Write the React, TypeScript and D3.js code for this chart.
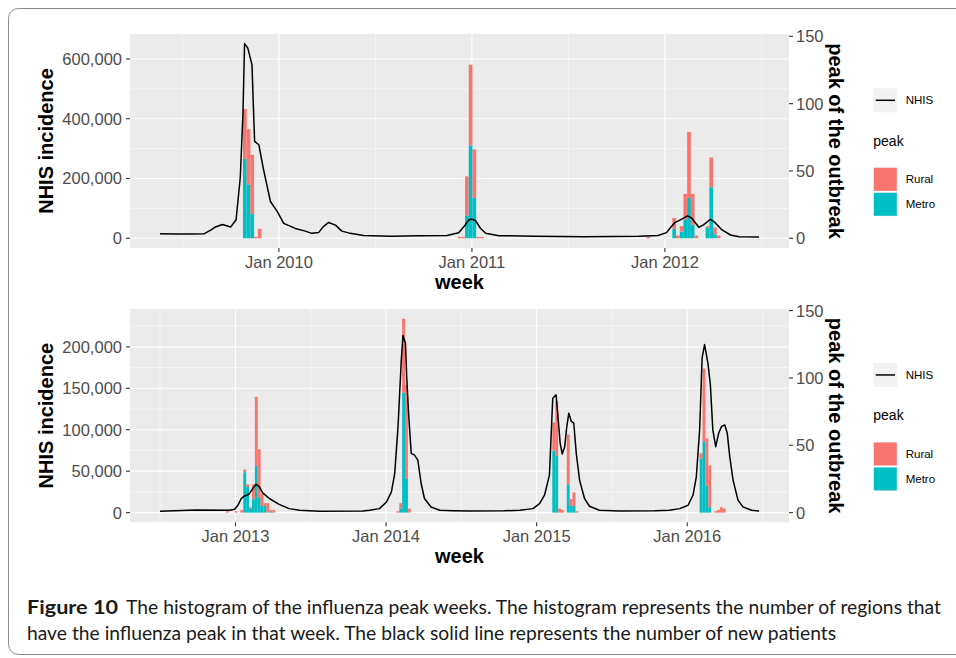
import React from "react";
import * as d3 from "d3";

// ---------- DATA ----------
// NHIS weekly incidence (key points), season 2009-2012
const topNhis: [string, number][] = [
  ["2009-05-21", 15000], ["2009-06-20", 14000], ["2009-07-20", 14000], ["2009-08-13", 15500],
  ["2009-08-25", 27000], ["2009-09-03", 38000], ["2009-09-16", 46000], ["2009-10-02", 38000],
  ["2009-10-12", 62000], ["2009-10-20", 206000], ["2009-10-25", 420000], ["2009-10-28", 651000],
  ["2009-11-03", 637000], ["2009-11-11", 581000], ["2009-11-16", 324000], ["2009-11-24", 313000],
  ["2009-12-03", 229000], ["2009-12-16", 123000], ["2009-12-29", 89000], ["2010-01-10", 50000],
  ["2010-02-01", 33000], ["2010-02-20", 24000], ["2010-03-04", 16500], ["2010-03-17", 19000],
  ["2010-03-26", 39000], ["2010-04-05", 53000], ["2010-04-18", 44000], ["2010-04-30", 24000],
  ["2010-05-13", 18000], ["2010-06-10", 9000], ["2010-08-01", 7000], ["2010-09-22", 8500],
  ["2010-11-15", 9000], ["2010-12-07", 18800], ["2010-12-17", 39000], ["2010-12-26", 61000],
  ["2010-12-31", 64700], ["2011-01-08", 59000], ["2011-01-17", 33500], ["2011-01-27", 16800],
  ["2011-02-21", 8700], ["2011-05-01", 6500], ["2011-08-01", 5500], ["2011-11-12", 7000],
  ["2011-12-19", 9500], ["2012-01-04", 18800], ["2012-01-14", 41200], ["2012-01-20", 52300],
  ["2012-01-30", 61300], ["2012-02-13", 74700], ["2012-02-21", 67000], ["2012-03-05", 36900],
  ["2012-03-14", 44600], ["2012-03-27", 63700], ["2012-04-05", 52300], ["2012-04-18", 27800],
  ["2012-05-04", 11000], ["2012-05-20", 5400], ["2012-06-27", 4400],
];

// Peak weeks (number of regions), 2009-2012
const topPeakWeeks = [
  "2009-10-25", "2009-11-01", "2009-11-08", "2009-11-15", "2009-11-22",
  "2010-12-05", "2010-12-12", "2010-12-19", "2010-12-26", "2011-01-02", "2011-01-09", "2011-01-16",
  "2011-11-27", "2012-01-15", "2012-01-22", "2012-01-29", "2012-02-05", "2012-02-12", "2012-02-19",
  "2012-02-26", "2012-03-18", "2012-03-25", "2012-04-01", "2012-04-08",
];
const topMetro = [59, 40, 18, 0, 0, 0, 0, 17, 69, 30, 0, 0, 0, 7, 0, 5, 14, 30, 10, 0, 8, 38, 3, 0];
const topRural = [37, 41, 44, 1, 7, 1, 1, 29, 60, 36, 1, 1, 1, 8, 2, 4, 19, 49, 23, 2, 1, 22, 5, 2];

// NHIS weekly incidence, season 2012-2016
const bottomNhis: [string, number][] = [
  ["2012-07-02", 1600], ["2012-09-28", 3200], ["2012-12-18", 2800], ["2012-12-30", 4000],
  ["2013-01-07", 8800], ["2013-01-15", 17000], ["2013-01-23", 20100], ["2013-02-03", 22200],
  ["2013-02-12", 29000], ["2013-02-20", 34300], ["2013-02-28", 31000], ["2013-03-08", 23800],
  ["2013-03-24", 17000], ["2013-04-17", 10000], ["2013-05-11", 4800], ["2013-06-05", 2800],
  ["2013-07-24", 1600], ["2013-11-06", 1800], ["2013-11-22", 2800], ["2013-12-16", 4800],
  ["2014-01-02", 12800], ["2014-01-14", 25000], ["2014-01-22", 47300], ["2014-01-30", 103700],
  ["2014-02-07", 184600], ["2014-02-11", 213700], ["2014-02-17", 204800], ["2014-02-20", 164300],
  ["2014-02-25", 115900], ["2014-03-03", 71500], ["2014-03-11", 69400], ["2014-03-19", 63400],
  ["2014-03-27", 35100], ["2014-04-04", 17000], ["2014-04-20", 6800], ["2014-05-11", 2800],
  ["2014-06-12", 2200], ["2014-07-22", 1800], ["2014-10-15", 2200], ["2014-11-21", 2800],
  ["2014-12-23", 4800], ["2015-01-08", 10900], ["2015-01-20", 21000], ["2015-02-01", 45200],
  ["2015-02-09", 138000], ["2015-02-17", 142200], ["2015-02-21", 120000], ["2015-02-27", 83600],
  ["2015-03-04", 70700], ["2015-03-10", 79600], ["2015-03-15", 103800], ["2015-03-20", 120000],
  ["2015-03-26", 110000], ["2015-04-01", 107900], ["2015-04-07", 71500], ["2015-04-15", 39200],
  ["2015-04-27", 17000], ["2015-05-09", 7700], ["2015-06-02", 2800], ["2015-07-21", 2000],
  ["2015-10-15", 2200], ["2015-11-19", 2800], ["2015-12-14", 4800], ["2016-01-03", 8900],
  ["2016-01-15", 21000], ["2016-01-23", 43200], ["2016-01-31", 99800], ["2016-02-06", 186600],
  ["2016-02-12", 202800], ["2016-02-20", 180600], ["2016-02-26", 154300], ["2016-03-03", 99800],
  ["2016-03-10", 79600], ["2016-03-17", 95700], ["2016-03-24", 103800], ["2016-04-01", 105800],
  ["2016-04-07", 95700], ["2016-04-13", 67500], ["2016-04-21", 39200], ["2016-05-03", 15000],
  ["2016-05-15", 6900], ["2016-06-05", 2800], ["2016-06-23", 2000],
];

const bottomPeakWeeks = [
  "2012-12-09", "2012-12-30", "2013-01-13", "2013-01-20", "2013-01-27", "2013-02-03", "2013-02-10",
  "2013-02-17", "2013-02-24", "2013-03-03", "2013-03-10", "2013-03-17", "2013-03-24", "2013-03-31",
  "2014-01-26", "2014-02-02", "2014-02-09", "2014-02-16", "2014-02-23",
  "2015-02-08", "2015-02-15", "2015-02-22", "2015-03-01", "2015-03-15", "2015-03-22", "2015-03-29", "2015-04-05",
  "2016-01-31", "2016-02-07", "2016-02-14", "2016-02-21", "2016-03-06", "2016-03-13", "2016-03-20", "2016-03-27",
];
const bottomMetro = [0, 0, 0, 30, 19, 3, 10, 35, 11, 5, 5, 0, 1, 0,
  0, 3, 89, 25, 0,
  46, 42, 0, 0, 21, 5, 5, 0,
  40, 53, 20, 4, 0, 0, 0, 0];
const bottomRural = [1, 1, 2, 2, 2, 1, 11, 51, 36, 9, 2, 7, 1, 2,
  1, 4, 55, 70, 3,
  21, 41, 3, 2, 37, 5, 10, 1,
  4, 54, 35, 31, 1, 2, 4, 3];

const topLeftTicks = [0, 200000, 400000, 600000];
const bottomLeftTicks = [0, 50000, 100000, 150000, 200000];
const rightTicks = [0, 50, 100, 150];
const topSecFactor = 4505;
const bottomSecFactor = 1625;

const legendLine = "NHIS";
const legendTitle = "peak";
const peakTypes = ["Rural", "Metro"];
const peakColors = ["#F8766D", "#00BFC4"];

// ---------- LAYOUT ----------
const W = 956, H = 658;
const PL = 130, PR = 789;
const FONT = "'Liberation Sans', Arial, Helvetica, sans-serif";
const CAPFONT = "Lato, 'Open Sans', sans-serif";
const parse = d3.timeParse("%Y-%m-%d");
const fmt = d3.format(",");
const fmtDate = d3.timeFormat("%b %Y");

type PanelProps = {
  top: number; h: number; nhis: [string, number][]; weeks: string[];
  metro: number[]; rural: number[]; k: number; leftTicks: number[];
};

function Panel({ top, h, nhis, weeks, metro, rural, k, leftTicks }: PanelProps) {
  const pts = nhis.map(([d, v]) => ({ d: parse(d) as Date, v }));
  const t0 = +pts[0].d, t1 = +pts[pts.length - 1].d;
  const span = t1 - t0;
  const x = d3.scaleTime().domain([new Date(t0 - 0.05 * span), new Date(t1 + 0.05 * span)]).range([PL, PR]);
  const stacks = weeks.map((_, i) => metro[i] + rural[i]);
  const M = Math.max(d3.max(pts, p => p.v) as number, (d3.max(stacks) as number) * k);
  const y = d3.scaleLinear().domain([-0.05 * M, 1.05 * M]).range([top + h, top]);
  const [dmin, dmax] = x.domain();
  const years = d3.timeYear.range(d3.timeYear.ceil(dmin), dmax);
  const allYears = d3.timeYear.range(d3.timeYear.floor(dmin), d3.timeYear.offset(dmax, 1));
  const minorX: Date[] = [];
  for (let i = 0; i < allYears.length - 1; i++) {
    const m = new Date((+allYears[i] + +allYears[i + 1]) / 2);
    if (m > dmin && m < dmax) minorX.push(m);
  }
  const step = leftTicks[1] - leftTicks[0];
  const [ymin, ymax] = y.domain();
  const minorY: number[] = [];
  for (let v = leftTicks[0] - step / 2; v < ymax; v += step) if (v > ymin) minorY.push(v);
  const line = d3.line<{ d: Date; v: number }>().x(p => x(p.d)).y(p => y(p.v));
  const bottom = top + h;
  const cy = top + h / 2;
  const legTop = cy - 52.7;

  return (
    <g>
      <rect x={PL} y={top} width={PR - PL} height={h} fill="#EBEBEB" />
      {minorY.map(v => <line key={"my" + v} x1={PL} x2={PR} y1={y(v)} y2={y(v)} stroke="#fff" strokeWidth={0.55} />)}
      {minorX.map(d => <line key={"mx" + +d} x1={x(d)} x2={x(d)} y1={top} y2={bottom} stroke="#fff" strokeWidth={0.55} />)}
      {leftTicks.map(v => <line key={"gy" + v} x1={PL} x2={PR} y1={y(v)} y2={y(v)} stroke="#fff" strokeWidth={1.1} />)}
      {years.map(d => <line key={"gx" + +d} x1={x(d)} x2={x(d)} y1={top} y2={bottom} stroke="#fff" strokeWidth={1.1} />)}
      {weeks.map((w, i) => {
        const d = parse(w) as Date;
        const xa = x(d), xb = x(d3.timeDay.offset(d, 7));
        const y0 = y(0), ym = y(metro[i] * k), yr = y((metro[i] + rural[i]) * k);
        return (
          <g key={"b" + w}>
            {metro[i] > 0 && <rect x={xa} width={xb - xa} y={ym} height={y0 - ym} fill={peakColors[1]} />}
            {rural[i] > 0 && <rect x={xa} width={xb - xa} y={yr} height={ym - yr} fill={peakColors[0]} />}
          </g>
        );
      })}
      <path d={line(pts) || ""} fill="none" stroke="#000" strokeWidth={1.5} strokeLinejoin="round" />
      {leftTicks.map(v => (
        <g key={"lt" + v}>
          <line x1={PL - 4} x2={PL} y1={y(v)} y2={y(v)} stroke="#333" strokeWidth={1.1} />
          <text x={PL - 8} y={y(v)} dy="0.36em" textAnchor="end" fontSize={16.5} fill="#4D4D4D" fontFamily={FONT}>{fmt(v)}</text>
        </g>
      ))}
      {rightTicks.map(v => (
        <g key={"rt" + v}>
          <line x1={PR} x2={PR + 4} y1={y(v * k)} y2={y(v * k)} stroke="#333" strokeWidth={1.1} />
          <text x={PR + 7} y={y(v * k)} dy="0.36em" textAnchor="start" fontSize={16.5} fill="#4D4D4D" fontFamily={FONT}>{v}</text>
        </g>
      ))}
      {years.map(d => (
        <g key={"xt" + +d}>
          <line x1={x(d)} x2={x(d)} y1={bottom} y2={bottom + 4} stroke="#333" strokeWidth={1.1} />
          <text x={x(d)} y={bottom + 20} textAnchor="middle" fontSize={16.5} fill="#4D4D4D" fontFamily={FONT}>{fmtDate(d)}</text>
        </g>
      ))}
      <text transform={`translate(53,${cy}) rotate(-90)`} textAnchor="middle" fontSize={20} fontWeight="bold" fontFamily={FONT}>NHIS incidence</text>
      <text transform={`translate(829,${cy}) rotate(90)`} textAnchor="middle" fontSize={20} fontWeight="bold" fontFamily={FONT}>peak of the outbreak</text>
      <text x={(PL + PR) / 2} y={bottom + 41} textAnchor="middle" fontSize={20} fontWeight="bold" fontFamily={FONT}>week</text>
      <rect x={873.3} y={legTop} width={24} height={24} fill="#F2F2F2" />
      <line x1={875.7} x2={895} y1={legTop + 12} y2={legTop + 12} stroke="#000" strokeWidth={1.5} />
      <text x={905.7} y={legTop + 12} dy="0.36em" fontSize={11.5} fontFamily={FONT}>{legendLine}</text>
      <text x={873.3} y={legTop + 57.4} fontSize={14} fontFamily={FONT}>{legendTitle}</text>
      {peakTypes.map((t, i) => (
        <g key={t}>
          <rect x={873.3} y={legTop + 79 + i * 25} width={24} height={24} fill="#F2F2F2" />
          <rect x={873.8} y={legTop + 79.5 + i * 25} width={23} height={23} fill={peakColors[i]} />
          <text x={905.7} y={legTop + 91 + i * 25} dy="0.36em" fontSize={11.5} fontFamily={FONT}>{t}</text>
        </g>
      ))}
    </g>
  );
}

export default function App() {
  return (
    <div style={{ position: "absolute", left: 0, top: 0 }}>
      <svg width={W} height={H} style={{ display: "block", background: "#fff" }}>
        <rect x={8.5} y={8.5} width={980} height={646} rx={10} fill="#fff" stroke="#8a8a8a" strokeWidth={1} />
        <Panel top={34} h={214} nhis={topNhis} weeks={topPeakWeeks} metro={topMetro} rural={topRural} k={topSecFactor} leftTicks={topLeftTicks} />
        <Panel top={309} h={213.3} nhis={bottomNhis} weeks={bottomPeakWeeks} metro={bottomMetro} rural={bottomRural} k={bottomSecFactor} leftTicks={bottomLeftTicks} />
        <text x={27} y={614} fontSize={18.5} fontFamily={CAPFONT} fill="#1a1a1a" fontWeight="bold" textLength={91} lengthAdjust="spacingAndGlyphs">
          Figure 10
        </text>
        <text x={126} y={614} fontSize={18.5} fontFamily={CAPFONT} fill="#1a1a1a" textLength={815} lengthAdjust="spacingAndGlyphs">
          The histogram of the influenza peak weeks. The histogram represents the number of regions that
        </text>
        <text x={27} y={640} fontSize={18.5} fontFamily={CAPFONT} fill="#1a1a1a" textLength={809} lengthAdjust="spacingAndGlyphs">
          have the influenza peak in that week. The black solid line represents the number of new patients
        </text>
      </svg>
    </div>
  );
}
